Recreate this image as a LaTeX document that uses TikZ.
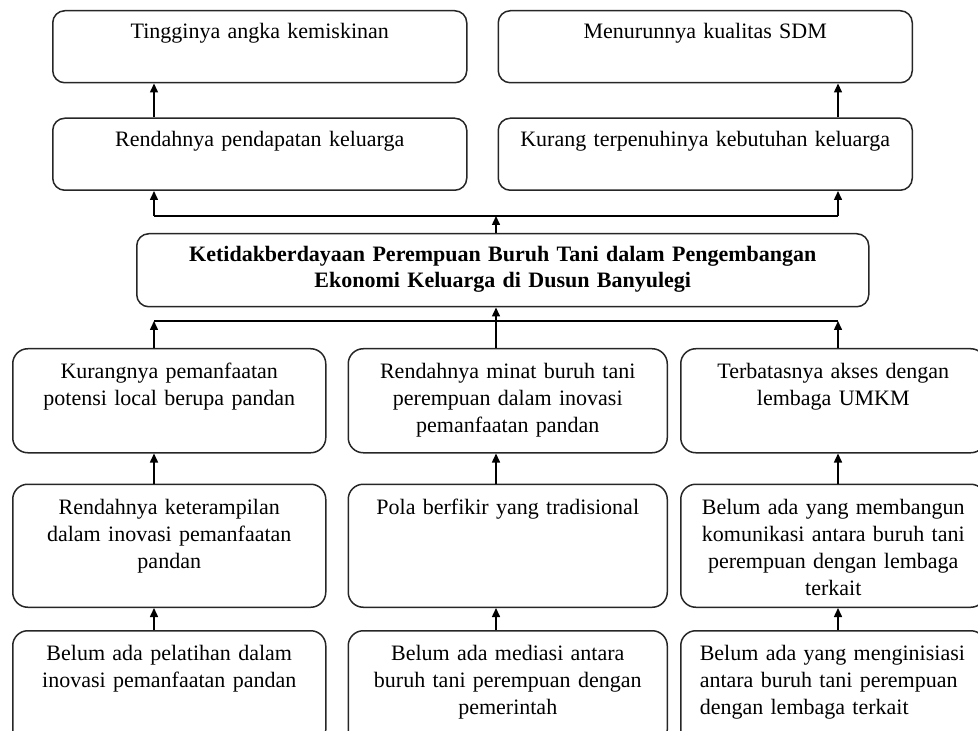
\documentclass[tikz,border=0pt]{standalone}
\usepackage{fontspec}
\setmainfont{Liberation Serif}
\usetikzlibrary{arrows.meta,positioning}
\tikzset{
 box/.style={draw=black!85,line width=0.75pt,rounded corners=6pt,align=center,inner xsep=4pt,inner ysep=4.5pt,text height=9.5pt,font=\fontsize{11}{13.5}\selectfont},
 topbox/.style={box,text width=199pt,text depth=17.5pt},
 cell/.style={box,rounded corners=7.5pt,text width=148.5pt,text height=10.5pt},
 arrow/.style={-{Triangle[length=4.5pt,width=4pt]},line width=0.75pt,draw=black},
 link/.style={line width=0.75pt,draw=black}
}

\begin{document}
\begin{tikzpicture}
\useasboundingbox (0,0) rectangle (489pt,-365.5pt);
\coordinate (xl) at (77pt,0);
\coordinate (xc) at (248pt,0);
\coordinate (xr) at (419pt,0);
\coordinate (jtop) at (0,-108pt);
\coordinate (jbot) at (0,-160.5pt);
% akibat
\node[topbox,anchor=north west] (poverty) at (26pt,-5pt) {Tingginya angka kemiskinan};
\node[topbox,right=15pt of poverty] (sdm) {Menurunnya kualitas SDM};
\node[topbox,below=17pt of poverty] (income) {Rendahnya pendapatan keluarga};
\node[topbox,below=17pt of sdm] (needs) {Kurang terpenuhinya kebutuhan keluarga};
% masalah inti
\node[box,font=\fontsize{11}{13}\selectfont\bfseries,text width=358pt,text depth=18pt,anchor=north west] (core) at (68pt,-116.5pt) {Ketidakberdayaan Perempuan Buruh Tani dalam Pengembangan\\Ekonomi Keluarga di Dusun Banyulegi};
% penyebab
\node[cell,text depth=32.5pt,anchor=north west] (pandan) at (6pt,-174pt) {Kurangnya pemanfaatan\\potensi local berupa pandan};
\node[cell,text width=151.5pt,text depth=32.5pt,right=10.5pt of pandan] (interest) {Rendahnya minat buruh tani\\perempuan dalam inovasi\\pemanfaatan pandan};
\node[cell,text width=144.5pt,text depth=32.5pt,right=6pt of interest] (access) {Terbatasnya akses dengan\\lembaga UMKM};
\node[cell,text depth=42pt,below=15pt of pandan] (skill) {Rendahnya keterampilan\\dalam inovasi pemanfaatan\\pandan};
\node[cell,text width=151.5pt,text depth=42pt,below=15pt of interest] (mindset) {Pola berfikir yang tradisional};
\node[cell,text width=144.5pt,text depth=42pt,below=15pt of access] (communication) {Belum ada yang membangun\\komunikasi antara buruh tani\\perempuan dengan lembaga\\terkait};
\node[cell,text depth=37.5pt,below=11pt of skill] (training) {Belum ada pelatihan dalam\\inovasi pemanfaatan pandan};
\node[cell,text width=151.5pt,text depth=37.5pt,below=11pt of mindset] (mediation) {Belum ada mediasi antara\\buruh tani perempuan dengan\\pemerintah};
\node[cell,text width=133.5pt,inner xsep=9.5pt,align=left,text depth=37.5pt,below=11pt of communication] (initiation) {Belum ada yang menginisiasi\\antara buruh tani perempuan\\dengan lembaga terkait};
% panah atas
\draw[arrow] (income.north -| xl) -- (poverty.south -| xl);
\draw[arrow] (needs.north -| xr) -- (sdm.south -| xr);
\draw[arrow] (core.north -| xc) -- (jtop -| xc);
\draw[link] (jtop -| xl) -- (jtop -| xr);
\draw[arrow] (jtop -| xl) -- (income.south -| xl);
\draw[arrow] (jtop -| xr) -- (needs.south -| xr);
% panah bawah
\draw[arrow] (pandan.north -| xl) -- (jbot -| xl);
\draw[arrow] (access.north -| xr) -- (jbot -| xr);
\draw[link] (jbot -| xl) -- (jbot -| xr);
\draw[arrow] (interest.north -| xc) -- (core.south -| xc);
\foreach \lo/\hi/\x in {skill/pandan/xl,mindset/interest/xc,communication/access/xr,training/skill/xl,mediation/mindset/xc,initiation/communication/xr}
 \draw[arrow] (\lo.north -| \x) -- (\hi.south -| \x);
\end{tikzpicture}
\end{document}
